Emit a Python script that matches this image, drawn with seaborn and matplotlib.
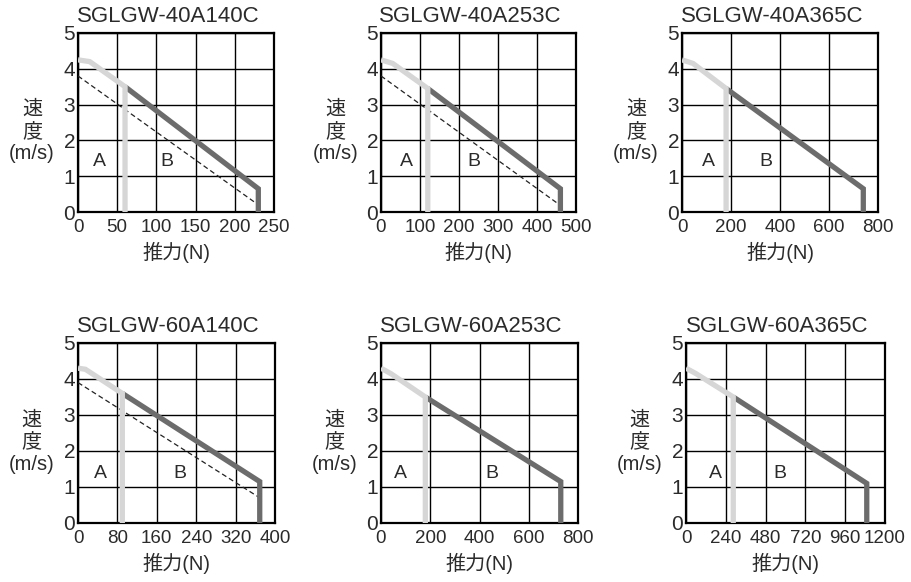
import numpy as np
import pandas as pd
import matplotlib
matplotlib.use('Agg')
import matplotlib.pyplot as plt
import seaborn as sns

# Datos de las 6 curvas (fuerza N, velocidad m/s)
titles = ['SGLGW-40A140C', 'SGLGW-40A253C', 'SGLGW-40A365C',
          'SGLGW-60A140C', 'SGLGW-60A253C', 'SGLGW-60A365C']
x_max = [250, 500, 800, 400, 800, 1200]
x_ticks = [[0, 50, 100, 150, 200, 250],
           [0, 100, 200, 300, 400, 500],
           [0, 200, 400, 600, 800],
           [0, 80, 160, 240, 320, 400],
           [0, 200, 400, 600, 800],
           [0, 240, 480, 720, 960, 1200]]
y_ticks = [0, 1, 2, 3, 4, 5]

# zona A (gris claro)
a_force = [[0, 15, 60, 60],
           [0, 30, 120, 120],
           [0, 45, 180, 180],
           [0, 15, 90, 90],
           [0, 40, 180, 180],
           [0, 60, 285, 285]]
a_speed = [[4.25, 4.2, 3.5, 0],
           [4.25, 4.15, 3.45, 0],
           [4.25, 4.15, 3.45, 0],
           [4.3, 4.27, 3.6, 0],
           [4.3, 4.15, 3.5, 0],
           [4.3, 4.15, 3.5, 0]]
# zona B (gris oscuro)
b_force = [[60, 230, 230],
           [120, 460, 460],
           [180, 740, 740],
           [90, 369, 369],
           [180, 730, 730],
           [285, 1090, 1090]]
b_speed = [[3.5, 0.65, 0],
           [3.45, 0.65, 0],
           [3.45, 0.65, 0],
           [3.6, 1.15, 0],
           [3.5, 1.15, 0],
           [3.5, 1.1, 0]]
# curva punteada
dash_force = [[0, 230], [0, 458], None, [0, 369], None, None]
dash_speed = [[3.8, 0.2], [3.8, 0.2], None, [3.9, 0.7], None, None]

# posiciones de las etiquetas A / B
lbl_a = [(28, 1.4), (66, 1.4), (106, 1.4), (45, 1.37), (78, 1.37), (175, 1.37)]
lbl_b = [(113, 1.4), (237, 1.4), (344, 1.4), (207, 1.37), (449, 1.37), (567, 1.37)]

sns.set_theme(style='white')
plt.rcParams['font.family'] = ['Liberation Sans', 'Noto Sans CJK JP']
plt.rcParams['text.color'] = '#2b2b2b'

W, H = 911, 582
fig = plt.figure(figsize=(W / 100, H / 100), dpi=100)

# cajas de ejes en pixeles (izq, arriba, der, abajo)
boxes = [(78, 33, 274, 212), (381, 33, 576, 212), (682, 33, 878, 212),
         (78, 343, 275, 523), (381, 343, 578, 523), (686, 343, 885, 523)]

light = '#d6d6d6'
dark = '#6c6c6c'

for i in range(6):
    l, t, r, b = boxes[i]
    ax = fig.add_axes([l / W, (H - b) / H, (r - l) / W, (b - t) / H])

    if dash_force[i] is not None:
        sns.lineplot(x=dash_force[i], y=dash_speed[i], ax=ax, color='#222222',
                     lw=0.9, sort=False, estimator=None, zorder=3)
        ax.lines[-1].set_dashes((4, 2.5))
    sns.lineplot(x=b_force[i], y=b_speed[i], ax=ax, color=dark, lw=3.8,
                 sort=False, estimator=None, zorder=4)
    sns.lineplot(x=a_force[i], y=a_speed[i], ax=ax, color=light, lw=3.8,
                 sort=False, estimator=None, zorder=5)
    for ln in ax.lines[-2:]:
        ln.set_solid_capstyle('butt')
        ln.set_solid_joinstyle('miter')

    ax.text(lbl_a[i][0], lbl_a[i][1], 'A', fontsize=14, ha='center', va='center')
    ax.text(lbl_b[i][0], lbl_b[i][1], 'B', fontsize=14, ha='center', va='center')

    ax.set_xlim(0, x_max[i])
    ax.set_ylim(0, 5)
    ax.set_xticks(x_ticks[i])
    ax.set_yticks(y_ticks)
    ax.grid(True, color='black', lw=1.0)
    ax.set_axisbelow(True)
    for s in ax.spines.values():
        s.set_color('black')
        s.set_linewidth(1.6)
    ax.tick_params(length=0, labelsize=13.5, labelcolor='#2b2b2b', pad=2)
    ax.tick_params(axis='y', labelsize=15)
    ax.tick_params(axis='x', pad=5)

    ax.set_title(titles[i], fontsize=16, pad=8, color='#2b2b2b', x=0.46)
    ax.set_xlabel('推力(N)', fontsize=14.5, labelpad=4, color='#2b2b2b')
    ax.set_ylabel('速\n度\n(m/s)', fontsize=14.5, rotation=0, color='#2b2b2b',
                  linespacing=1.2, ha='center', va='center')
    ax.yaxis.set_label_coords(-0.235, 0.45)

fig.savefig('out.png', dpi=100)
